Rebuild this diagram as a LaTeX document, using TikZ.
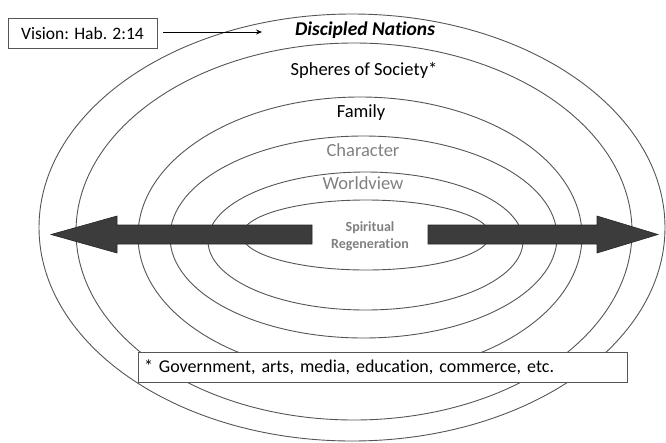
\documentclass[tikz,border=0pt]{standalone}
\usepackage{fontspec}
\setmainfont{Carlito}[Ligatures={NoCommon}]
\usetikzlibrary{arrows.meta}
\definecolor{ringgray}{HTML}{555555}
\definecolor{textgray}{HTML}{808080}
\definecolor{arrowfill}{HTML}{3C3C3C}
\tikzset{
  ring/.style={draw=ringgray, line width=0.9pt},
  ringlabel/.style={font=\fontsize{18.5}{21}\selectfont, inner sep=1pt},
  labelbox/.style={draw=ringgray, fill=white, line width=0.8pt},
  bigarrow/.style={fill=arrowfill, draw=black!85, line width=0.6pt}
}
\begin{document}
\begin{tikzpicture}[x=1pt,y=-1pt]
\useasboundingbox (0,0) rectangle (666,442);
% rings, outer to inner: centre x, centre y, radius x, radius y
\foreach \cx/\cy/\rx/\ry in {352/227.5/313/213.5, 354/231.5/278/188.5, 360/236/222/139,
  363.5/237/193.5/101, 365.5/241/157.5/69, 366/235/124/35}
{
\draw[ring] (\cx,\cy) ellipse [x radius=\rx, y radius=\ry];
}
% ring labels
\node[ringlabel, font=\fontsize{19.5}{22}\selectfont\bfseries\itshape] (nations) at (365,30) {Discipled Nations};
\node[ringlabel] (spheres) at (364,70) {Spheres of Society*};
\node[ringlabel] (family) at (361,113) {Family};
\node[ringlabel, text=textgray] (character) at (363,150) {Character};
\node[ringlabel, text=textgray] (worldview) at (363,183) {Worldview};
\node[font=\fontsize{14}{17}\selectfont\bfseries, text=textgray, align=center] (regen) at (370,236) {Spiritual\\Regeneration};
% the two big arrows
\filldraw[bigarrow] (312,225) -- (117,225) -- (117,216) -- (51,234.5) -- (117,253) -- (117,244) -- (312,244) -- cycle;
\filldraw[bigarrow] (428,225) -- (597,225) -- (597,216) -- (658,234.5) -- (597,253) -- (597,244) -- (428,244) -- cycle;
% vision box
\node[labelbox, minimum width=149pt, minimum height=30pt, font=\fontsize{17.5}{20}\selectfont] (vision) at (82.5,33) {Vision: Hab. 2:14};
\coordinate (visionend) at (262,32);
\draw[-{Stealth[length=6pt,width=5pt]}, line width=0.7pt] (vision.east)+(6,-1) -- (visionend);
% footnote box
\node[labelbox, minimum width=489pt, minimum height=30pt, text width=477pt, align=left, font=\fontsize{18}{21}\selectfont] (footnote) at (382.5,367) {* Government, arts, media, education, commerce, etc.};
\end{tikzpicture}
\end{document}
